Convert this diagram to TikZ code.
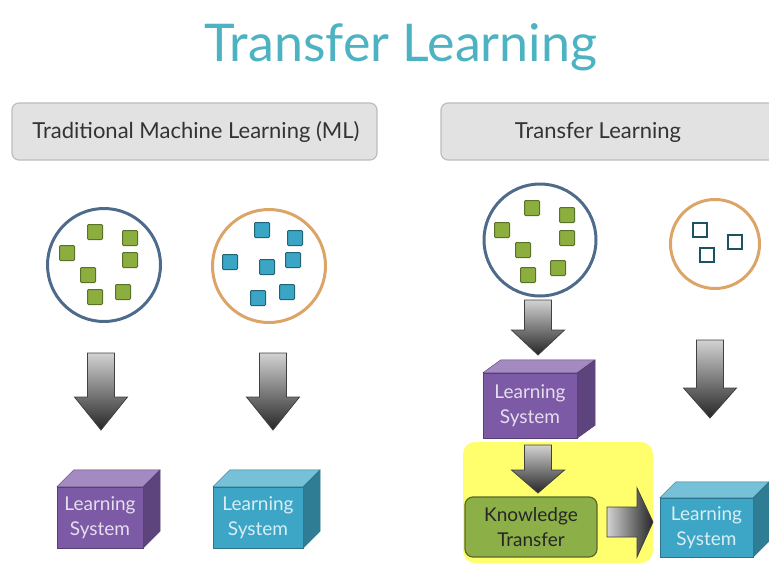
\documentclass[tikz,border=0pt]{standalone}
\usepackage{fontspec}
\setmainfont{Lato}
\usetikzlibrary{calc}

\definecolor{titleteal}{HTML}{4DB3C3}
\definecolor{headfill}{HTML}{E2E2E2}
\definecolor{headline}{HTML}{BDBDBD}
\definecolor{ringblue}{HTML}{4E6B8C}
\definecolor{ringorange}{HTML}{DDA468}
\definecolor{sqgreen}{HTML}{8BAE3F}
\definecolor{sqblue}{HTML}{3AA5C4}
\definecolor{lspurple}{HTML}{7C5AA6}
\definecolor{lscyan}{HTML}{3DA6C7}
\definecolor{ktgreen}{HTML}{8DAF48}
\definecolor{glow}{HTML}{FFFF6E}

% block arrow pointing down: x, top, head base, tip
\newcommand{\blockdown}[4]{%
  \shade[bigarrow] ({#1-13.5},#2) -- ({#1+13.5},#2) -- ({#1+13.5},#3) -- ({#1+26.5},#3)
    -- (#1,#4) -- ({#1-26.5},#3) -- ({#1-13.5},#3) -- cycle;}
% top and side of a box: node, dx, dy, colour
\newcommand{\cubesides}[4]{%
  \filldraw[fill=#4!70!white, draw=#4!70!black, line join=round] (#1.north west) -- ++(#2,-#3)
    -- ($(#1.north east)+(#2,-#3)$) -- (#1.north east) -- cycle;
  \filldraw[fill=#4!75!black, draw=#4!70!black, line join=round] (#1.north east) -- ++(#2,-#3)
    -- ($(#1.south east)+(#2,-#3)$) -- (#1.south east) -- cycle;}

\begin{document}
\begin{tikzpicture}[x=1pt,y=-1pt,
    header/.style={draw=headline,fill=headfill,rounded corners=7pt,line width=1.2pt,
      minimum height=57pt},
    headtext/.style={text=black!80,font=\fontsize{22}{24}\selectfont},
    ring/.style={circle,draw,line width=3pt,inner sep=0pt},
    greensq/.style={draw=sqgreen!65!black,fill=sqgreen,line width=1pt,rounded corners=1pt},
    bluesq/.style={draw=sqblue!60!black,fill=sqblue,line width=1pt,rounded corners=1pt},
    emptysq/.style={draw=sqblue!50!black,fill=white,line width=1.2pt},
    lsbox/.style={draw=#1!70!black,fill=#1,inner sep=0pt,align=center,
      font=\fontsize{19}{25}\selectfont,text=#1!20!white},
    bigarrow/.style={top color=gray!35,bottom color=black!85,draw=black!75,line width=0.8pt}]
  \useasboundingbox (0,0) rectangle (769,568);
  \clip (0,0) rectangle (769,568);

  % Title
  \node[anchor=base,text=titleteal,font=\fontsize{52}{58}\selectfont] (title) at (401,61) {Transfer Learning};

  % Headers
  \node[header,minimum width=365pt] (h1) at (194.5,131.5) {};
  \node[headtext] (h1t) at (196,132) {Traditional Machine Learning (ML)};
  \node[header,minimum width=345pt] (h2) at (613.5,131.5) {};
  \node[headtext] (h2t) at (598,132) {Transfer Learning};

  % Data sets
  \node[ring,draw=ringblue,minimum size=113pt] (c1) at (104,265) {};
  \node[ring,draw=ringorange,minimum size=113pt] (c2) at (269,266) {};
  \node[ring,draw=ringblue,minimum size=112pt] (c3) at (540,240) {};
  \node[ring,draw=ringorange,minimum size=89pt] (c4) at (715,244) {};
  \foreach \x/\y in {95/232,130/238,67/253,130/260,88/275,95/297,123/292,
                     532/208,567/215,502/230,567/238,523/250,528/275,558/268}
    \fill[greensq] ({\x-7.5},{\y-7.5}) rectangle ++(15,15);
  \foreach \x/\y in {262/230,295/238,230/262,267/267,293/260,287/292,258/298}
    \fill[bluesq] ({\x-7.5},{\y-7.5}) rectangle ++(15,15);
  \foreach \x/\y in {700/230,735/242,707/255}
    \draw[emptysq] ({\x-7},{\y-7}) rectangle ++(14,14);

  % Traditional ML
  \blockdown{101}{353}{397}{430}
  \blockdown{273}{353}{397}{430}
  \node[lsbox=lspurple,minimum width=86pt,minimum height=61pt] (ls1) at (100,517.5) {Learning\\System};
  \cubesides{ls1}{17}{17}{lspurple}
  \node[lsbox=lscyan,minimum width=90pt,minimum height=61pt] (ls2) at (258,517.5) {Learning\\System};
  \cubesides{ls2}{17}{17}{lscyan}

  % Transfer learning
  \fill[glow,rounded corners=12pt] (463,442) rectangle (653,563);
  \blockdown{538}{300}{330}{355}
  \node[lsbox=lspurple,minimum width=94pt,minimum height=65pt] (ls3) at (530,405.5) {Learning\\System};
  \cubesides{ls3}{18}{13}{lspurple}
  \blockdown{538}{445}{470}{493}
  \node[draw=ktgreen!60!black,fill=ktgreen,rounded corners=8pt,line width=1.2pt,
    minimum width=132pt,minimum height=60pt,align=center,
    font=\fontsize{19}{25}\selectfont,text=black!85] (kt) at (531,527) {Knowledge\\Transfer};
  \shade[bigarrow,left color=gray!35,right color=black!85]
    (607,507) -- (637,507) -- (637,488) -- (653,522) -- (637,557) -- (637,537) -- (607,537) -- cycle;
  \blockdown{710}{340}{388}{418}
  \node[lsbox=lscyan,minimum width=93pt,minimum height=59pt] (ls4) at (706.5,527.5) {Learning\\System};
  \cubesides{ls4}{16}{16}{lscyan}
\end{tikzpicture}
\end{document}
